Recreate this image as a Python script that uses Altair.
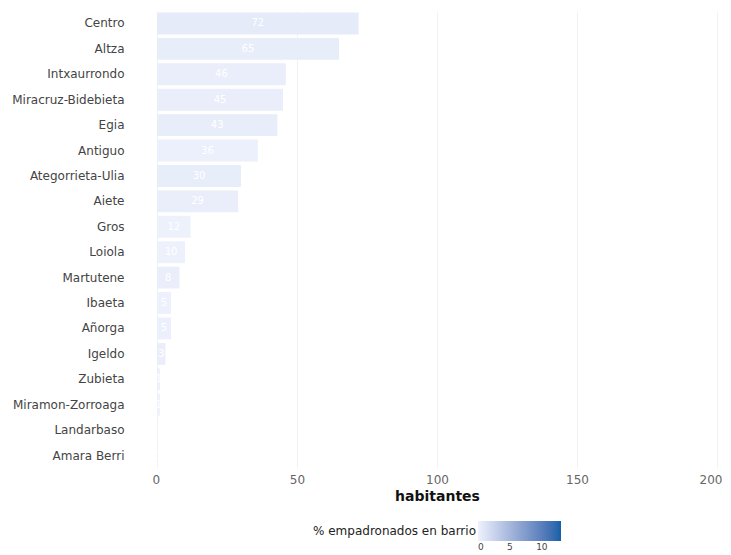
import altair as alt
import pandas as pd

barrios = ["Centro", "Altza", "Intxaurrondo", "Miracruz-Bidebieta", "Egia", "Antiguo",
           "Ategorrieta-Ulia", "Aiete", "Gros", "Loiola", "Martutene", "Ibaeta", "Añorga",
           "Igeldo", "Zubieta", "Miramon-Zorroaga", "Landarbaso", "Amara Berri"]
habitantes = [72, 65, 46, 45, 43, 36, 30, 29, 12, 10, 8, 5, 5, 3, 1, 1, 0, 0]
porcentaje = [0.6, 0.4, 0.3, 0.3, 0.4, 0.2, 0.4, 0.3, 0.1, 0.1, 0.3, 0.05, 0.2, 0.3, 0.2, 0.1, 0.0, 0.0]

df = pd.DataFrame({"barrio": barrios, "habitantes": habitantes, "pct": porcentaje})

FONT = "DejaVu Sans"

y_enc = alt.Y("barrio:N", sort=barrios, title=None,
              scale=alt.Scale(paddingInner=0.14, paddingOuter=0.06),
              axis=alt.Axis(ticks=False, domain=False, labelPadding=33, labelFontSize=12,
                            labelColor="#444444", labelFont=FONT, grid=False))

x_axis = alt.Axis(values=[0, 50, 100, 150, 200], ticks=False, domain=False,
                  grid=True, gridColor="#f2f2f2", labelFontSize=12,
                  labelFlush=True, labelFlushOffset=5,
                  labelColor="#666666", labelFont=FONT, labelPadding=6,
                  titleFontSize=14, titleFontWeight="bold", titleColor="#111111",
                  titleFont=FONT, titlePadding=4)

bars = alt.Chart(df).mark_bar().encode(
    y=y_enc,
    x=alt.X("habitantes:Q", title="habitantes",
            scale=alt.Scale(domain=[0, 200]), axis=x_axis),
    color=alt.Color("pct:Q", title="% empadronados en barrio",
                    scale=alt.Scale(domain=[0, 13], range=["#eef2fd", "#1560a8"]),
                    legend=alt.Legend(orient="none", direction="horizontal", titleOrient="left",
                                      legendX=156, legendY=510, gradientLength=83,
                                      gradientThickness=20, values=[0, 5, 10],
                                      labelFontSize=9, labelColor="#444444", labelFont=FONT,
                                      titleFontSize=12, titleFontWeight="normal",
                                      titleColor="#222222", titleFont=FONT, titlePadding=2,
                                      gradientStrokeWidth=0))
)

labels = alt.Chart(df).transform_calculate(
    mid="datum.habitantes / 2"
).mark_text(color="white", fontSize=10, font=FONT).encode(
    y=y_enc,
    x=alt.X("mid:Q", title="habitantes", axis=x_axis),
    text=alt.Text("habitantes:Q", format="d")
)

chart = alt.layer(bars, labels).properties(
    width=560, height=457,
    padding={"top": 3, "left": 3, "right": 0, "bottom": 5}
).configure(background="white").configure_view(stroke=None)

chart.save("out.html", embed_options={"renderer": "svg", "actions": False})
